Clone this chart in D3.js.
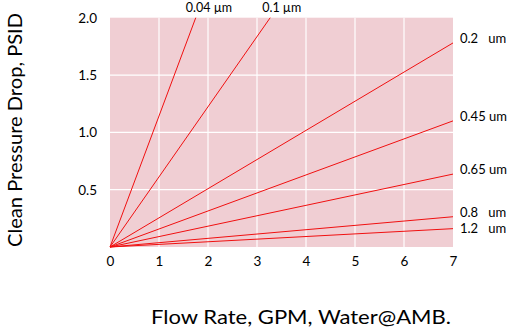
<!DOCTYPE html>
<html><head><meta charset="utf-8">
<script src="https://cdn.jsdelivr.net/npm/d3@7"></script>
<style>body{margin:0;background:#fff}svg{display:block}text{font-family:Lato,"Open Sans",sans-serif;fill:#000}</style>
</head><body><svg id="c" width="509" height="329"></svg>
<script>
const xTicks = [0,1,2,3,4,5,6,7];
const yTicks = [0.5,1.0,1.5,2.0];
const seriesNames = ["0.04 µm","0.1 µm","0.2   um","0.45 um","0.65 um","0.8   um","1.2   um"];
// end points of each straight line: [flow, pressure]
const seriesEndX = [1.75, 3.27, 7, 7, 7, 7, 7];
const seriesEndY = [2.0, 2.0, 1.78, 1.10, 0.636, 0.264, 0.16];

const svg = d3.select("#c");
const x = d3.scaleLinear().domain([0,7]).range([110,453]);
const y = d3.scaleLinear().domain([0,2]).range([247,17.7]);

svg.append("rect").attr("x",x(0)).attr("y",y(2)).attr("width",x(7)-x(0)).attr("height",y(0)-y(2)).attr("fill","#f0ced3");
svg.append("g").selectAll("line").data(xTicks.filter(d=>d>0&&d<7)).join("line")
  .attr("x1",d=>x(d)).attr("x2",d=>x(d)).attr("y1",y(0)).attr("y2",y(2)).attr("stroke","#fff").attr("stroke-width",1.2);
svg.append("g").selectAll("line").data(yTicks.filter(d=>d<2)).join("line")
  .attr("x1",x(0)).attr("x2",x(7)).attr("y1",d=>y(d)).attr("y2",d=>y(d)).attr("stroke","#fff").attr("stroke-width",1.2);

const xa = svg.append("g").attr("transform",`translate(0,${y(0)})`)
  .call(d3.axisBottom(x).tickValues(xTicks).tickFormat(d3.format("d")).tickSize(0).tickPadding(9));
const ya = svg.append("g").attr("transform",`translate(${x(0)},0)`)
  .call(d3.axisLeft(y).tickValues(yTicks).tickFormat(d3.format(".1f")).tickSize(0).tickPadding(13));
[xa,ya].forEach(a=>{a.select(".domain").remove();a.selectAll("text").style("font-size","13.5px").style("font-family","Lato,sans-serif").attr("fill","#000");});

svg.append("g").selectAll("line").data(seriesNames).join("line")
  .attr("x1",x(0)).attr("y1",y(0))
  .attr("x2",(d,i)=>x(seriesEndX[i])).attr("y2",(d,i)=>y(seriesEndY[i]))
  .attr("stroke","#f01010").attr("stroke-width",1);

const labelDy = [0,0,0,0,0,0,4.5];
svg.append("g").selectAll("text").data(seriesNames).join("text")
  .attr("x",(d,i)=>seriesEndX[i]<7 ? x(seriesEndX[i])+ (i===0?-10:-8) : x(7)+7)
  .attr("y",(d,i)=>seriesEndX[i]<7 ? 11.5 : y(seriesEndY[i])+labelDy[i])
  .attr("xml:space","preserve").style("white-space","pre")
  .style("font-size",(d,i)=>seriesEndX[i]<7 ? "12.5px" : "13px").text(d=>d);

svg.append("text").attr("x",301).attr("y",324).attr("text-anchor","middle").style("font-size","20px")
  .attr("textLength",300).attr("lengthAdjust","spacingAndGlyphs").text("Flow Rate, GPM, Water@AMB.");
svg.append("text").attr("transform","translate(22,130) rotate(-90)").attr("text-anchor","middle").style("font-size","19px")
  .attr("textLength",234).attr("lengthAdjust","spacingAndGlyphs").text("Clean Pressure Drop, PSID");
</script></body></html>
